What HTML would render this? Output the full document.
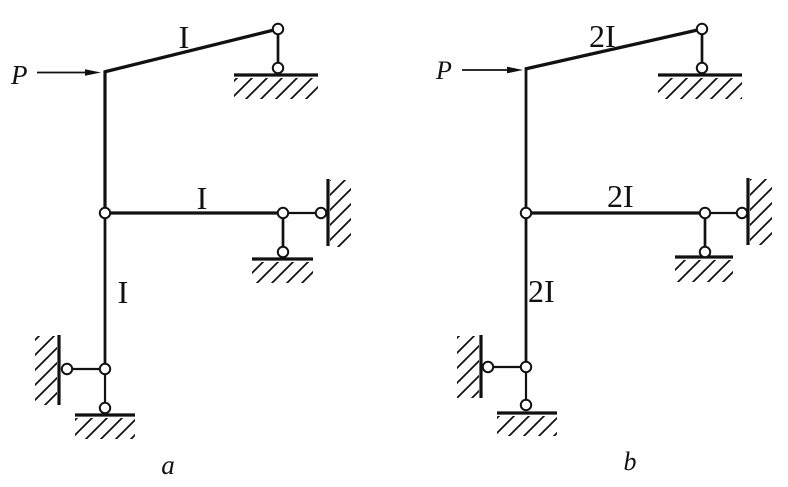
<!DOCTYPE html>
<html>
<head>
<meta charset="utf-8">
<style>
  html,body{margin:0;padding:0;background:#fff;}
  svg{display:block;}
  .lbl{font-family:"Liberation Serif",serif;font-size:32px;fill:#111;}
  .it{font-family:"Liberation Serif",serif;font-style:italic;fill:#111;}
</style>
</head>
<body>
<svg width="788" height="487" viewBox="0 0 788 487" xmlns="http://www.w3.org/2000/svg">
  <defs>
    <pattern id="h" patternUnits="userSpaceOnUse" width="15" height="15">
      <path d="M0,15 L15,0 M-4,4 L4,-4 M11,19 L19,11" stroke="#111" stroke-width="1.8" fill="none"/>
    </pattern>
  </defs>
  <rect width="788" height="487" fill="#fff"/>

  <!-- ================= Figure a ================= -->
  <g stroke="#111" fill="none" stroke-linecap="butt">
    <line x1="37" y1="72.5" x2="88" y2="72.5" stroke-width="1.7"/>
    <line x1="104" y1="72" x2="278" y2="29" stroke-width="3.3"/>
    <line x1="105" y1="70.5" x2="105" y2="213" stroke-width="3.2"/>
    <line x1="105" y1="213" x2="105" y2="369" stroke-width="2.8"/>
    <line x1="278" y1="29" x2="278" y2="68" stroke-width="2.7"/>
    <line x1="234" y1="75" x2="318" y2="75" stroke-width="3.2"/>
    <line x1="105" y1="213" x2="283" y2="213" stroke-width="3.2"/>
    <line x1="283" y1="213" x2="321" y2="213" stroke-width="2.2"/>
    <line x1="328" y1="179" x2="328" y2="246" stroke-width="3.2"/>
    <line x1="283" y1="213" x2="283" y2="252" stroke-width="2.7"/>
    <line x1="252" y1="259" x2="313" y2="259" stroke-width="3.2"/>
    <line x1="67" y1="369" x2="105" y2="369" stroke-width="2.2"/>
    <line x1="59" y1="335" x2="59" y2="405" stroke-width="3.2"/>
    <line x1="105" y1="369" x2="105" y2="408" stroke-width="2.2"/>
    <line x1="75" y1="415" x2="135" y2="415" stroke-width="3.2"/>
  </g>
  <polygon points="85,69.2 101,72.5 85,75.8" fill="#111"/>
  <rect x="234" y="78" width="84" height="21" fill="url(#h)"/>
  <rect x="330" y="180" width="21" height="67" fill="url(#h)"/>
  <rect x="252" y="262" width="61" height="21" fill="url(#h)"/>
  <rect x="35" y="336" width="22" height="69" fill="url(#h)"/>
  <rect x="75" y="418" width="60" height="21" fill="url(#h)"/>
  <g fill="#fff" stroke="#111" stroke-width="2">
    <circle cx="278" cy="29" r="5.2"/>
    <circle cx="278" cy="68" r="5.2"/>
    <circle cx="105" cy="213" r="5.2"/>
    <circle cx="283" cy="213" r="5.2"/>
    <circle cx="321" cy="213" r="5.2"/>
    <circle cx="283" cy="252" r="5.2"/>
    <circle cx="67" cy="369" r="5.2"/>
    <circle cx="105" cy="369" r="5.2"/>
    <circle cx="105" cy="408" r="5.2"/>
  </g>
  <text class="it" x="11" y="84" font-size="27">P</text>
  <text class="lbl" x="184" y="48" text-anchor="middle">I</text>
  <text class="lbl" x="202" y="209" text-anchor="middle">I</text>
  <text class="lbl" x="123" y="303" text-anchor="middle">I</text>
  <text class="it" x="168" y="474" font-size="27" text-anchor="middle">a</text>

  <!-- ================= Figure b ================= -->
  <g stroke="#111" fill="none" stroke-linecap="butt">
    <line x1="462" y1="70" x2="509" y2="70" stroke-width="1.7"/>
    <line x1="525" y1="69" x2="702" y2="29" stroke-width="3.3"/>
    <line x1="526" y1="67.5" x2="526" y2="213" stroke-width="2.8"/>
    <line x1="526" y1="213" x2="526" y2="367" stroke-width="2.8"/>
    <line x1="702" y1="29" x2="702" y2="68" stroke-width="2.7"/>
    <line x1="658" y1="75" x2="742" y2="75" stroke-width="3.2"/>
    <line x1="526" y1="213" x2="705" y2="213" stroke-width="3.2"/>
    <line x1="705" y1="213" x2="742" y2="213" stroke-width="2.2"/>
    <line x1="748" y1="178" x2="748" y2="245" stroke-width="3.2"/>
    <line x1="705" y1="213" x2="705" y2="252" stroke-width="2.7"/>
    <line x1="675" y1="257" x2="733" y2="257" stroke-width="3.2"/>
    <line x1="488" y1="367" x2="526" y2="367" stroke-width="2.2"/>
    <line x1="481" y1="335" x2="481" y2="398" stroke-width="3.2"/>
    <line x1="526" y1="367" x2="526" y2="405" stroke-width="2.2"/>
    <line x1="497" y1="413" x2="557" y2="413" stroke-width="3.2"/>
  </g>
  <polygon points="507,66.7 523,70 507,73.3" fill="#111"/>
  <rect x="658" y="78" width="84" height="21" fill="url(#h)"/>
  <rect x="750" y="179" width="22" height="66" fill="url(#h)"/>
  <rect x="675" y="260" width="58" height="22" fill="url(#h)"/>
  <rect x="457" y="336" width="22" height="62" fill="url(#h)"/>
  <rect x="497" y="416" width="60" height="20" fill="url(#h)"/>
  <g fill="#fff" stroke="#111" stroke-width="2">
    <circle cx="702" cy="29" r="5.2"/>
    <circle cx="702" cy="68" r="5.2"/>
    <circle cx="526" cy="213" r="5.2"/>
    <circle cx="705" cy="213" r="5.2"/>
    <circle cx="742" cy="213" r="5.2"/>
    <circle cx="705" cy="252" r="5.2"/>
    <circle cx="488" cy="367" r="5.2"/>
    <circle cx="526" cy="367" r="5.2"/>
    <circle cx="526" cy="405" r="5.2"/>
  </g>
  <text class="it" x="436" y="79" font-size="26">P</text>
  <text class="lbl" x="589" y="47">2I</text>
  <text class="lbl" x="607" y="207">2I</text>
  <text class="lbl" x="528" y="302">2I</text>
  <text class="it" x="630" y="470" font-size="26" text-anchor="middle">b</text>
</svg>
</body>
</html>
